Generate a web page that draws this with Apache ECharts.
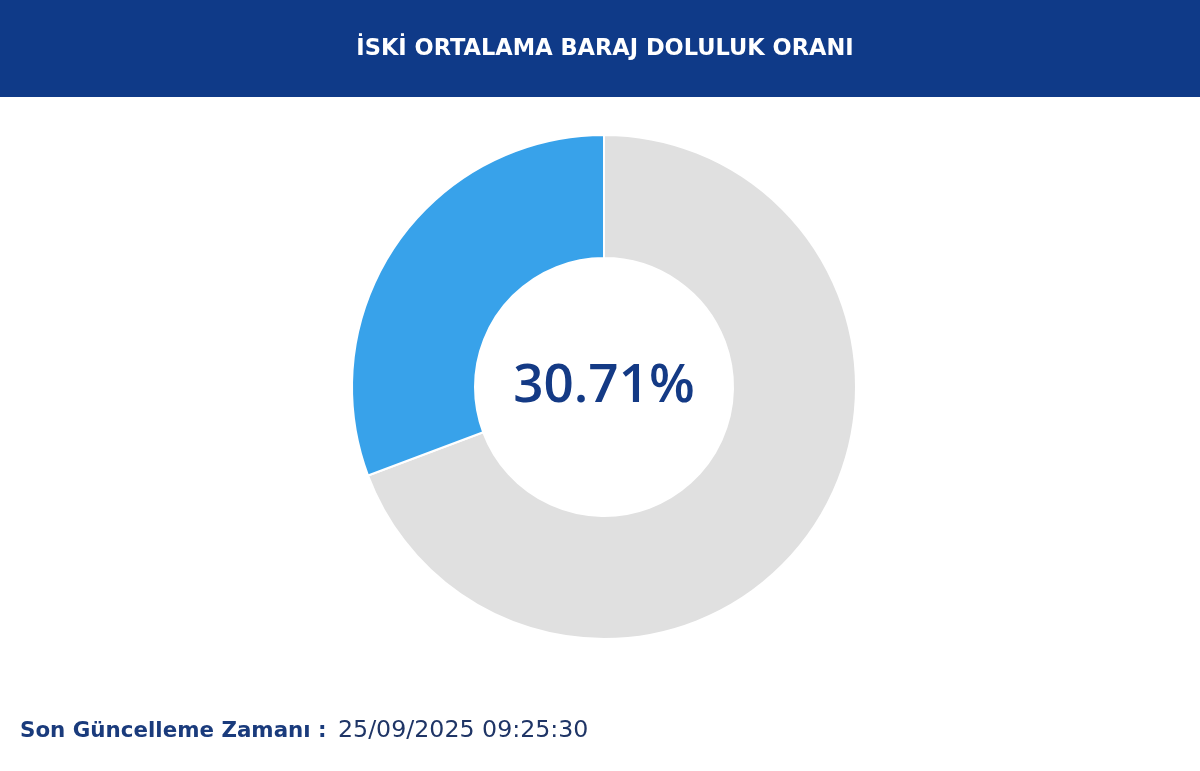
<!DOCTYPE html>
<html>
<head>
<meta charset="utf-8">
<script src="https://cdn.jsdelivr.net/npm/echarts@6/dist/echarts.min.js"></script>
<style>
html,body{margin:0;padding:0;background:#fff;}
#chart{width:1200px;height:771px;}
</style>
</head>
<body>
<div id="chart"></div>
<script>
const titleText = "İSKİ ORTALAMA BARAJ DOLULUK ORANI";
const categories = ["Boş", "Doluluk"];
const values = [69.29, 30.71];
const centerLabel = "30.71%";
const updateLabel = "Son Güncelleme Zamanı :";
const updateTime = "25/09/2025 09:25:30";

const FONT = "'Open Sans'";
const WIDE = "'DejaVu Sans'";
const chart = echarts.init(document.getElementById('chart'), null, {renderer: 'canvas'});
chart.setOption({
  backgroundColor: '#ffffff',
  animation: false,
  graphic: [
    {type: 'rect', left: 0, top: 0, shape: {width: 1200, height: 97}, style: {fill: '#0f3a88'}, z: 0},
    {type: 'text', x: 605, y: 49, style: {text: titleText, fill: '#ffffff', font: 'bold 22.5px ' + WIDE, textAlign: 'center', textVerticalAlign: 'middle'}, z: 5},
    {type: 'text', x: 604, y: 387, style: {text: centerLabel, fill: '#143a85', font: '600 53px ' + FONT, textAlign: 'center', textVerticalAlign: 'middle'}, z: 5},
    {type: 'text', x: 20, y: 731, style: {text: updateLabel, fill: '#1a3b7c', font: 'bold 21.4px ' + WIDE, textVerticalAlign: 'middle'}, z: 5},
    {type: 'text', x: 338, y: 731, style: {text: updateTime, fill: '#1f3566', font: '23.7px ' + WIDE, textVerticalAlign: 'middle'}, z: 5}
  ],
  series: [{
    type: 'pie',
    center: [604, 387],
    radius: [129, 252],
    startAngle: 90,
    clockwise: true,
    label: {show: false},
    labelLine: {show: false},
    silent: true,
    itemStyle: {borderColor: '#ffffff', borderWidth: 2},
    data: categories.map((c, i) => ({
      name: c,
      value: values[i],
      itemStyle: {color: i === 0 ? '#e0e0e0' : '#38a2ea'}
    }))
  }]
});
</script>
</body>
</html>
